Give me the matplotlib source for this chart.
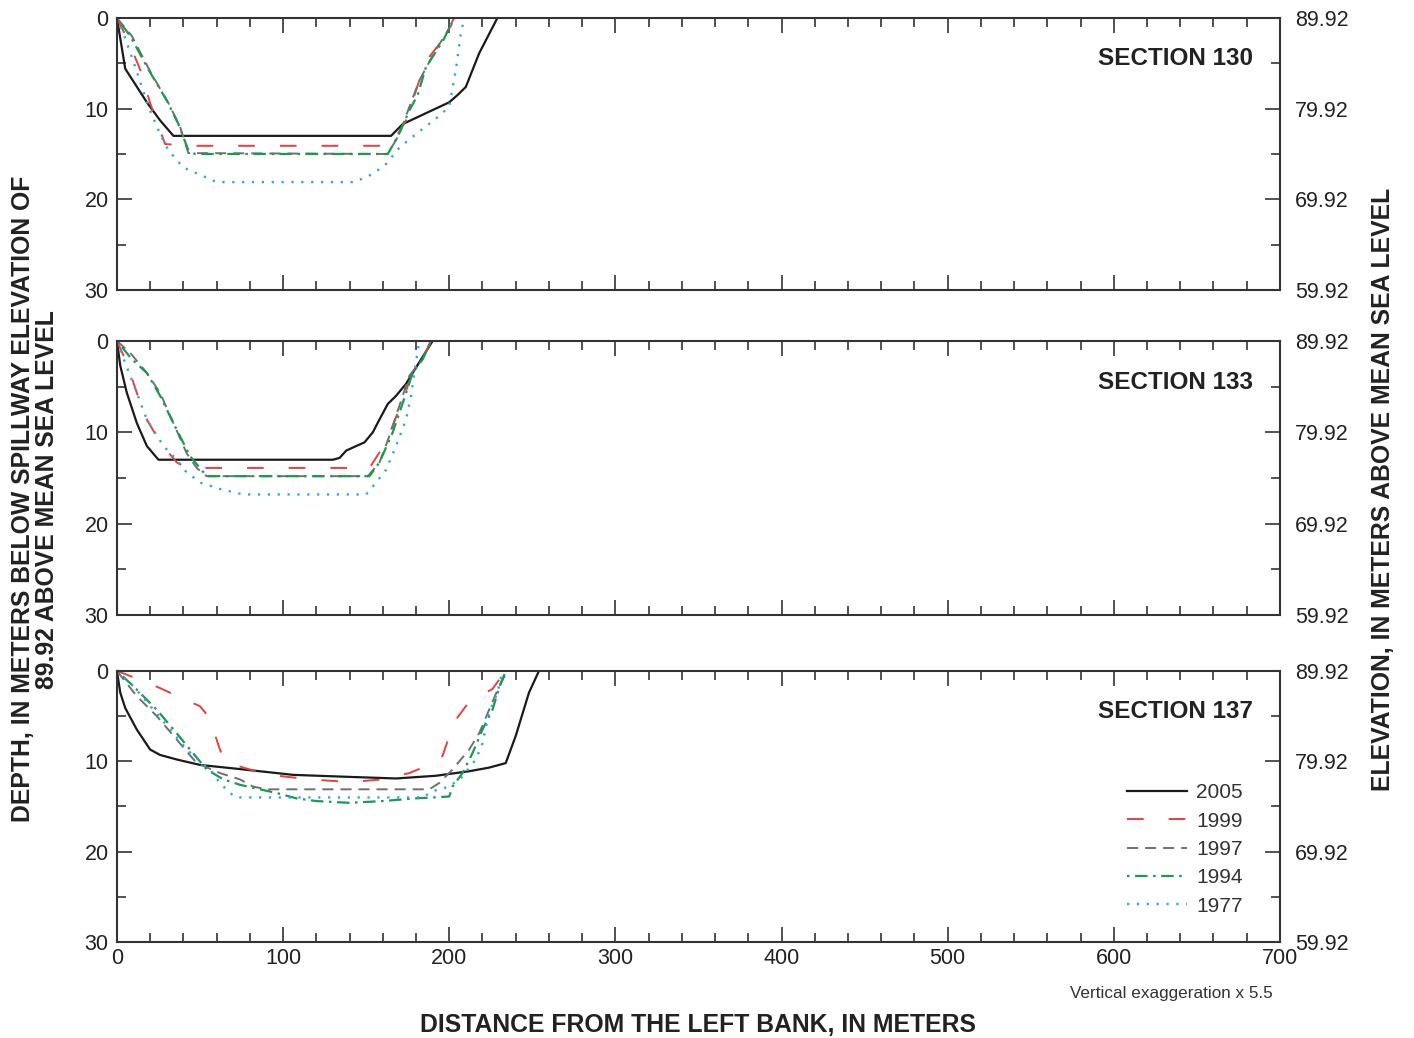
import matplotlib
matplotlib.use("Agg")
import matplotlib.pyplot as plt
from matplotlib.ticker import MultipleLocator, FixedLocator

plt.rcParams['font.family'] = ['Liberation Sans', 'DejaVu Sans']
plt.rcParams['lines.scale_dashes'] = False

years = ["2005", "1999", "1997", "1994", "1977"]
sections = ["SECTION 130", "SECTION 133", "SECTION 137"]

# section 130: (distance m, depth m)
s130_2005_x = [0, 5, 18, 26, 34, 165, 172, 200, 205, 210, 218, 229]
s130_2005_y = [0, 5.6, 9.3, 11.3, 13, 13, 11.7, 9.3, 8.5, 7.6, 3.9, 0]
s130_1999_x = [0, 7, 14, 20, 29, 43, 165, 168, 174, 182, 188, 196, 203]
s130_1999_y = [0, 2.6, 5.7, 9.4, 13.9, 14.1, 14.1, 13.1, 11.3, 6.9, 4.3, 2.4, 0]
s130_1997_x = [0, 9, 20, 31, 38, 43, 163, 170, 176, 182, 192, 204]
s130_1997_y = [0, 2, 5.9, 9.4, 12, 14.9, 15, 12.8, 9.8, 6.9, 3.5, 0]
s130_1994_x = [0, 8, 19, 30, 37, 43, 47, 163, 169, 176, 181, 186, 196, 203]
s130_1994_y = [0, 2, 5.7, 9.1, 11.7, 14.6, 15, 15, 13.1, 10.2, 8.5, 5.4, 2.6, 0]
s130_1977_x = [0, 4, 11, 19, 26, 31, 40, 54, 60, 143, 154, 162, 170, 180, 192, 200, 204, 207, 209]
s130_1977_y = [0, 1.7, 5.4, 9.8, 12.8, 14.6, 16.5, 17.6, 18.1, 18.1, 17.2, 16.1, 14.3, 12.8, 11.1, 9.8, 5.7, 1.7, 0]

# section 133
s133_2005_x = [0, 2, 6, 12, 18, 25, 130, 134, 138, 144, 149, 154, 158, 163, 168, 174, 180, 190]
s133_2005_y = [0, 2.7, 5.7, 9, 11.5, 13, 13, 12.8, 12, 11.5, 11.1, 10, 8.6, 6.9, 6, 4.7, 2.9, 0]
s133_1999_x = [0, 6, 12, 18, 26, 36, 42, 152, 158, 166, 172, 178, 184, 189]
s133_1999_y = [0, 2.4, 5.7, 8.6, 11.1, 13.3, 13.9, 13.9, 12.2, 9.3, 6.4, 3.5, 2, 0]
s133_1997_x = [0, 8, 18, 26, 34, 42, 48, 54, 151, 158, 164, 170, 176, 184, 189]
s133_1997_y = [0, 1.3, 3.5, 5.7, 9, 12.3, 13.9, 14.8, 14.8, 13.3, 10.4, 7.1, 3.8, 2, 0]
s133_1994_x = [0, 9, 18, 26, 34, 44, 54, 152, 158, 166, 172, 178, 184, 189]
s133_1994_y = [0, 2, 3.5, 6, 9, 12.6, 14.8, 14.8, 13.3, 10, 6.8, 3.5, 2, 0]
s133_1977_x = [0, 5, 12, 18, 28, 36, 41, 50, 62, 76, 150, 156, 162, 168, 174, 177, 179, 182]
s133_1977_y = [0, 2.4, 5.7, 8.6, 11.5, 13, 14.2, 15.5, 16.2, 16.8, 16.8, 15.5, 14.1, 11.5, 8.6, 6, 3.5, 0]

# section 137
s137_2005_x = [0, 2, 5, 12, 20, 26, 36, 50, 76, 106, 136, 168, 192, 212, 224, 234, 240, 248, 254]
s137_2005_y = [0, 2.4, 4.1, 6.5, 8.7, 9.3, 9.8, 10.4, 10.9, 11.5, 11.7, 11.9, 11.6, 11.1, 10.7, 10.2, 7.2, 2.4, 0]
s137_1999_x = [0, 10, 26, 40, 50, 54, 58, 62, 65, 76, 92, 116, 140, 160, 176, 188, 196, 200, 204, 210, 218, 226, 234]
s137_1999_y = [0, 0.7, 1.9, 3.1, 3.9, 4.8, 6.5, 8.7, 10, 10.7, 11.5, 12, 12.3, 12, 11.3, 10.4, 9.4, 7.2, 5.4, 3.9, 2.8, 2, 0]
s137_1997_x = [0, 12, 24, 36, 48, 62, 74, 82, 90, 188, 194, 202, 212, 218, 224, 230, 235]
s137_1997_y = [0, 2.8, 5, 7.6, 10.2, 11.3, 12, 12.8, 13.1, 13.1, 12.4, 10.9, 8.7, 6.9, 4.3, 1.7, 0]
s137_1994_x = [0, 10, 24, 36, 44, 54, 64, 74, 86, 96, 108, 120, 140, 160, 180, 200, 202, 208, 214, 220, 226, 230, 234]
s137_1994_y = [0, 1.7, 4.3, 6.9, 8.7, 10.9, 12, 12.6, 13.1, 13.5, 14.1, 14.4, 14.6, 14.4, 14.1, 13.9, 12.8, 11.3, 9.1, 6.5, 4.3, 1.9, 0]
s137_1977_x = [0, 10, 22, 34, 42, 56, 62, 68, 72, 184, 190, 200, 208, 216, 220, 224, 229, 232]
s137_1977_y = [0, 1.7, 4.3, 6.9, 8.7, 10.9, 12.4, 13.5, 14, 14, 13.3, 12.8, 11.7, 9.8, 8, 4.6, 2.4, 0]

data = [
    [(s130_2005_x, s130_2005_y), (s130_1999_x, s130_1999_y), (s130_1997_x, s130_1997_y),
     (s130_1994_x, s130_1994_y), (s130_1977_x, s130_1977_y)],
    [(s133_2005_x, s133_2005_y), (s133_1999_x, s133_1999_y), (s133_1997_x, s133_1997_y),
     (s133_1994_x, s133_1994_y), (s133_1977_x, s133_1977_y)],
    [(s137_2005_x, s137_2005_y), (s137_1999_x, s137_1999_y), (s137_1997_x, s137_1997_y),
     (s137_1994_x, s137_1994_y), (s137_1977_x, s137_1977_y)],
]

depth_ticks = [0, 10, 20, 30]
elev_labels = ["89.92", "79.92", "69.92", "59.92"]

styles = [
    dict(color='#1a1a1a', linestyle='-', lw=1.6),
    dict(color='#e8403d', dashes=(12, 18), lw=1.4),
    dict(color='#707070', dashes=(8, 5), lw=1.4),
    dict(color='#1a9a4f', dashes=(1.8, 4, 9, 4), lw=1.6),
    dict(color='#2aa6e2', dashes=(1.6, 5.5), lw=1.7),
]

fig = plt.figure(figsize=(14.14, 10.38), dpi=100)
left, width = 0.0827, 0.8225
bottoms = [0.7206, 0.4075, 0.0925]
heights = [0.2621, 0.2640, 0.2611]

for i, sec in enumerate(sections):
    ax = fig.add_axes([left, bottoms[i], width, heights[i]])
    lines = []
    for (xs, ys), st, yr in zip(data[i], styles, years):
        ln, = ax.plot(xs, ys, label=yr, **st)
        lines.append(ln)
    ax.set_xlim(0, 700)
    ax.set_ylim(30, 0)
    ax.xaxis.set_major_locator(MultipleLocator(100))
    ax.xaxis.set_minor_locator(MultipleLocator(20))
    ax.yaxis.set_major_locator(FixedLocator(depth_ticks))
    ax.yaxis.set_minor_locator(MultipleLocator(5))
    ax.tick_params(which='both', direction='in', top=True, right=False, width=1.2, color='#333333')
    ax.tick_params(which='major', length=11)
    ax.tick_params(which='minor', length=6.5)
    ax.tick_params(axis='y', labelsize=15.5, pad=6, labelcolor='#222222')
    ax.tick_params(axis='x', labelsize=15.5, pad=4, labelcolor='#222222')
    if i < 2:
        ax.tick_params(axis='x', labelbottom=False)
    for sp in ax.spines.values():
        sp.set_linewidth(1.5)
        sp.set_color('#333333')

    ax2 = ax.twinx()
    ax2.set_ylim(30, 0)
    ax2.yaxis.set_major_locator(FixedLocator(depth_ticks))
    ax2.yaxis.set_minor_locator(MultipleLocator(5))
    ax2.set_yticklabels(elev_labels)
    ax2.tick_params(which='both', direction='in', width=1.2, color='#333333')
    ax2.tick_params(which='major', length=11, labelsize=15.5, pad=11, labelcolor='#222222')
    ax2.tick_params(which='minor', length=6.5)
    for sp in ax2.spines.values():
        sp.set_visible(False)

    ax.text(0.977, 0.85, sec, transform=ax.transAxes, ha='right', va='center',
            fontsize=17.5, fontweight='bold', color='#222222')

    if i == 2:
        ax.legend(handles=lines, loc='upper left', bbox_to_anchor=(0.852, 0.655),
                  frameon=False, fontsize=15, handlelength=2.9, handletextpad=0.45,
                  labelspacing=0.45, labelcolor='#333333')
        ax.set_xlabel("DISTANCE FROM THE LEFT BANK, IN METERS", fontsize=17.8,
                      fontweight='bold', color='#222222', labelpad=32)
        ax.text(0.994, -0.19, "Vertical exaggeration x 5.5", transform=ax.transAxes,
                ha='right', va='center', fontsize=12.3, color='#333333')

fig.text(0.025, 0.519, "DEPTH, IN METERS BELOW SPILLWAY ELEVATION OF\n89.92 ABOVE MEAN SEA LEVEL",
         rotation=90, ha='center', va='center', fontsize=17.8, fontweight='bold',
         color='#222222', linespacing=1.0)
fig.text(0.978, 0.529, "ELEVATION, IN METERS ABOVE MEAN SEA LEVEL", rotation=90,
         ha='center', va='center', fontsize=17.8, fontweight='bold', color='#222222')

fig.savefig("out.png", dpi=100)
